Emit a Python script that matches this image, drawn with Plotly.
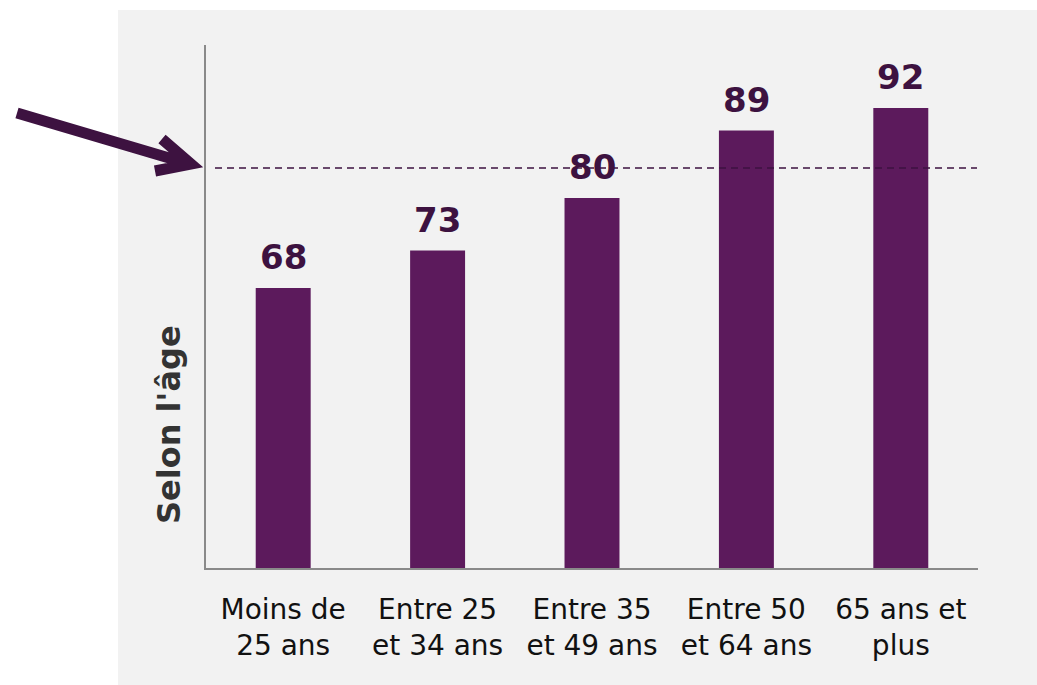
import plotly.graph_objects as go

categories = ["Moins de<br>25 ans", "Entre 25<br>et 34 ans", "Entre 35<br>et 49 ans",
              "Entre 50<br>et 64 ans", "65 ans et<br>plus"]
values = [68, 73, 80, 89, 92]
labels = ["68", "73", "80", "89", "92"]
reference_value = 84
axis_title = "Selon l'âge"

W, H = 1037, 685
L, R, T, B = 206, 59, 45, 117
PW, PH = W - L - R, H - T - B


def px(x):
    return (x - L) / PW


def py(y):
    return (H - B - y) / PH


BAR = "#5c1a5c"
DARK = "#3d1240"

fig = go.Figure()
fig.add_trace(go.Bar(
    x=categories, y=values,
    marker=dict(color=BAR, line=dict(width=0)), width=0.356,
    hoverinfo="skip",
))

annotations = [
    dict(x=c, y=v, xref="x", yref="y", text=f"<b>{t}</b>", showarrow=False,
         xanchor="center", yanchor="bottom", yshift=9,
         font=dict(family="DejaVu Sans", size=34, color=DARK))
    for c, v, t in zip(categories, values, labels)
]
annotations.append(dict(text=f"<b>{axis_title}</b>", xref="paper", yref="paper",
                        x=px(169), y=py(425), textangle=-90, showarrow=False,
                        xanchor="center", yanchor="middle",
                        font=dict(family="DejaVu Sans", size=32, color="#333333")))

shapes = [
    # grey panel
    dict(type="rect", xref="paper", yref="paper", x0=px(118), x1=px(1040),
         y0=py(688), y1=py(10), fillcolor="#f2f2f2", line=dict(width=0), layer="below"),
    # reference dashed line
    dict(type="line", xref="paper", yref="y", x0=px(215), x1=px(977),
         y0=reference_value, y1=reference_value,
         line=dict(color=DARK, width=1.5, dash="7px,5px")),
    # arrow
    dict(type="path", xref="paper", yref="paper",
         path=(f"M {px(17)},{py(113)} L {px(186)},{py(163)} "
               f"M {px(162)},{py(139)} L {px(191)},{py(164)} L {px(155)},{py(171)}"),
         line=dict(color=DARK, width=11)),
]

fig.update_layout(
    width=W, height=H, margin=dict(l=L, r=R, t=T, b=B),
    paper_bgcolor="white", plot_bgcolor="rgba(0,0,0,0)",
    showlegend=False, shapes=shapes, annotations=annotations,
    font=dict(family="DejaVu Sans"),
    xaxis=dict(showline=True, linecolor="#8a8a8a", linewidth=2, showgrid=False,
               ticks="", tickfont=dict(family="DejaVu Sans", size=28, color="#111111"),
               ticklabelstandoff=15, zeroline=False),
    yaxis=dict(range=[30.67, 100.4], showline=True, linecolor="#8a8a8a", linewidth=2,
               showgrid=False, showticklabels=False, ticks="", zeroline=False),
)

fig.write_html("out.html", config={"displayModeBar": False},
               post_script="document.body.style.margin='0';document.body.style.overflow='hidden';")
